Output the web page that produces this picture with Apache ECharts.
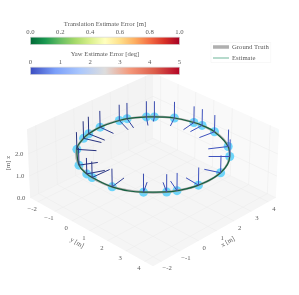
<!DOCTYPE html>
<html><head><meta charset="utf-8">
<style>html,body{margin:0;padding:0;background:#fff}#c{width:299px;height:295px}</style>
<script src="https://cdn.jsdelivr.net/npm/echarts@6/dist/echarts.min.js"></script></head>
<body><div id="c"></div>
<script>
// ---- data (metres) ----
const poseX=[2.91,3.14,3.65,3.93,3.99,3.95,3.45,2.91,1.74,0.47,-0.39,-0.73,-1.35,-1.91,-1.97,-1.93,-1.69,-0.91,-0.12,0.28,0.98,1.92,2.25];
const poseY=[-1.29,-1.06,-0.42,0.41,0.81,1.53,2.73,3.31,3.91,3.95,3.66,3.45,2.85,1.74,0.70,0.36,-0.34,-1.31,-1.78,-1.91,-1.99,-1.85,-1.74];
const headDX=[-0.47,-0.31,-0.6,-0.73,-0.71,-0.77,-0.69,-0.58,-0.25,0.064,0.333,0.407,0.61,0.77,0.887,0.665,0.656,0.471,0.268,0.092,0.019,-0.296,-0.361];
const headDY=[0.563,0.25,0.361,0.12,0.028,-0.101,-0.425,-0.582,-0.619,-0.711,-0.665,-0.591,-0.425,-0.156,0.036,0.296,0.36,0.619,0.748,0.831,0.758,0.813,0.748];
const upDZ=[0.72,0.72,0.74,0.74,0.74,0.76,0.76,0.76,0.76,0.77,0.77,0.77,0.8,0.79,0.7,0.7,0.77,0.77,0.77,0.77,0.74,0.72,0.72];
const poseShade=[0.7,0.8,0.9,0.9,1,1,1,1,1,1,1,0.9,0.8,0.4,0.2,0.2,0.1,0.1,0.1,0.1,0.3,0.4,0.5];
const truthX=[4,3.9,3.6,3.12,2.5,1.78,1,0.22,-0.5,-1.12,-1.6,-1.9,-2,-1.9,-1.6,-1.12,-0.5,0.22,1,1.78,2.5,3.12,3.6,3.9,4];
const truthY=[1,1.78,2.5,3.12,3.6,3.9,4,3.9,3.6,3.12,2.5,1.78,1,0.22,-0.5,-1.12,-1.6,-1.9,-2,-1.9,-1.6,-1.12,-0.5,0.22,1];
const ringZ=2.05;
const ticksXY=[-2,-1,0,1,2,3,4];
const ticksZ=[0,1,2];
const transTicks=[0,0.2,0.4,0.6,0.8,1];
const yawTicks=[0,1,2,3,4,5];
const transColors=['#006837','#1a9850','#66bd63','#a6d96a','#d9ef8b','#ffffbf','#fee08b','#fdae61','#f46d43','#d73027','#a50026'];
const yawColors=['#3b4cc0','#7b9ff9','#aac7fd','#dddddd','#f4987a','#dc5d4a','#b40426'];

// ---- projection of the 3D axes onto the flat scene axes ----
const lo=-2.45,hi=4.45,zTop=3.1;
const D=60,S=25.5,cx=153,cy=164,e=30*Math.PI/180,a=135*Math.PI/180;
const dv=[Math.cos(e)*Math.cos(a),Math.cos(e)*Math.sin(a),Math.sin(e)];
const rv=[Math.SQRT1_2,Math.SQRT1_2,0];
const uv=[-Math.sin(e)*Math.cos(a),-Math.sin(e)*Math.sin(a),Math.cos(e)];
function P(x,y,z){const p=[x-1,y-1,z-zTop/2];
 const dot=v=>p[0]*v[0]+p[1]*v[1]+p[2]*v[2];
 const f=D/(D-dot(dv));
 return [cx+S*f*dot(rv),295-(cy-S*f*dot(uv))];}

const font='"Liberation Serif","DejaVu Serif",serif';
const txt='#5c5c5c';
const fs=6.7;
function poly(name,pts,fill,z){return {type:'custom',name,coordinateSystem:'cartesian2d',xAxisIndex:0,yAxisIndex:0,silent:true,z,clip:false,
 data:[0],renderItem:(p,api)=>({type:'polygon',shape:{points:pts.map(q=>api.coord(q))},style:{fill,stroke:null}})};}
function lines(name,segs,color,w,z){return {type:'custom',name,coordinateSystem:'cartesian2d',xAxisIndex:0,yAxisIndex:0,silent:true,z,clip:false,
 data:segs.map((s,i)=>i),renderItem:(p,api)=>{const i=api.value(0),s=segs[i];return {type:'line',shape:{x1:api.coord(s[0])[0],y1:api.coord(s[0])[1],x2:api.coord(s[1])[0],y2:api.coord(s[1])[1]},style:{stroke:typeof color==='function'?color(i):color,lineWidth:w}};}};}
function labels(name,items,z){return {type:'custom',name,coordinateSystem:'cartesian2d',xAxisIndex:0,yAxisIndex:0,silent:true,z,clip:false,
 data:items.map((s,i)=>i),renderItem:(p,api)=>{const s=items[api.value(0)];const c=api.coord(s.p);return {type:'text',x:c[0],y:c[1],rotation:(s.rot||0)*Math.PI/180,style:{text:s.t,font:fs+'px '+font,fill:txt,align:'center',verticalAlign:'middle'}};}};}

const grid=[];
ticksXY.forEach(t=>{
 grid.push([P(t,lo,0),P(t,hi,0)]);grid.push([P(lo,t,0),P(hi,t,0)]);
 grid.push([P(hi,t,0),P(hi,t,zTop)]);grid.push([P(t,lo,0),P(t,lo,zTop)]);
});
ticksZ.forEach(t=>{grid.push([P(lo,lo,t),P(hi,lo,t)]);grid.push([P(hi,lo,t),P(hi,hi,t)]);});

const tickLab=[];
const lab=t=>(t<0?'\u2212':'')+t;
ticksXY.forEach(t=>{
 const px=P(t,hi,0),py=P(lo,t,0);
 tickLab.push({p:[px[0]+5.5,px[1]-7],t:lab(t)});
 tickLab.push({p:[py[0]-5.5,py[1]-7],t:lab(t)});
});
ticksZ.forEach(t=>tickLab.push({p:[P(lo,lo,t)[0]-9,P(lo,lo,t)[1]],t:t.toFixed(1)}));
tickLab.push({p:[8,295-163],t:'[m] z',rot:90});
tickLab.push({p:[77,295-243],t:'y [m]',rot:-30});
tickLab.push({p:[228,295-242],t:'x [m]',rot:30});

const upSegs=poseX.map((x,i)=>[P(x,poseY[i],ringZ),P(x,poseY[i],ringZ+upDZ[i])]);
const headSegs=poseX.map((x,i)=>[P(x,poseY[i],ringZ),P(x+headDX[i],poseY[i]+headDY[i],ringZ)]);
const estPts=poseX.map((x,i)=>P(x,poseY[i],ringZ));estPts.push(estPts[0]);
const truthPts=truthX.map((x,i)=>P(x,truthY[i],ringZ));
const shadeColor=i=>{const s=poseShade[i];return 'rgb('+Math.round(38+24*s)+','+Math.round(48+34*s)+','+Math.round(120+70*s)+')';};

function bar(name,gi,colors,max){return {type:'custom',name,coordinateSystem:'cartesian2d',xAxisIndex:gi,yAxisIndex:gi,silent:true,data:[0],
 renderItem:(p,api)=>{const a=api.coord([0,0]),b=api.coord([max,1]);return {type:'rect',shape:{x:a[0],y:b[1],width:b[0]-a[0],height:a[1]-b[1]},
  style:{stroke:'#d0d0d0',lineWidth:0.6,fill:new echarts.graphic.LinearGradient(0,0,1,0,colors.map((c,i)=>({offset:i/(colors.length-1),color:c})))}};}};}
function barAxis(gi,name,max,ticks,dec){return {type:'value',gridIndex:gi,position:'top',min:0,max,interval:ticks[1]-ticks[0],name,nameLocation:'middle',nameGap:9,
 nameTextStyle:{fontFamily:font,fontSize:fs,color:txt},axisLine:{show:false},axisTick:{show:false},splitLine:{show:false},
 axisLabel:{margin:1,fontFamily:font,fontSize:fs,color:txt,showMinLabel:true,showMaxLabel:true,formatter:v=>v.toFixed(dec)}};}

const chart=echarts.init(document.getElementById('c'),null,{renderer:'canvas'});
chart.setOption({animation:false,backgroundColor:'#fff',
 grid:[{left:0,top:0,width:299,height:295},{left:30.5,top:37.2,width:149,height:7.3},{left:30.5,top:67.2,width:149,height:7.3}],
 xAxis:[{type:'value',gridIndex:0,min:0,max:299,show:false},barAxis(1,'Translation Estimate Error [m]',1,transTicks,1),barAxis(2,'Yaw Estimate Error [deg]',5,yawTicks,0)],
 yAxis:[{type:'value',gridIndex:0,min:0,max:295,show:false},{type:'value',gridIndex:1,min:0,max:1,show:false},{type:'value',gridIndex:2,min:0,max:1,show:false}],
 legend:{orient:'vertical',left:211,top:42.5,itemWidth:16,itemHeight:5,itemGap:4,padding:[1,2],borderColor:'#f4f4f4',borderWidth:0.6,
  textStyle:{fontFamily:font,fontSize:fs,color:txt,padding:[0,0,0,-2]},
  data:[{name:'Ground Truth',icon:'path://M0,0L0,0ZM0,0.8H16V4.2H0ZM16,5L16,5Z',itemStyle:{color:'#b0b0b0'},lineStyle:{width:0,opacity:0}},
        {name:'Estimate',icon:'path://M0,0L0,0ZM0,2H16V3H0ZM16,5L16,5Z',itemStyle:{color:'#6fb59a'},lineStyle:{width:0,opacity:0}}]},
 series:[
  poly('floor',[P(lo,lo,0),P(hi,lo,0),P(hi,hi,0),P(lo,hi,0)],'#f5f5f5',1),
  poly('wallY',[P(lo,lo,0),P(hi,lo,0),P(hi,lo,zTop),P(lo,lo,zTop)],'#f3f3f3',1),
  poly('wallX',[P(hi,lo,0),P(hi,hi,0),P(hi,hi,zTop),P(hi,lo,zTop)],'#f9f9f9',1),
  lines('grid',grid,'#ebebeb',0.5,2),
  labels('ticks',tickLab,3),
  {type:'scatter',name:'poses',xAxisIndex:0,yAxisIndex:0,data:estPts.slice(0,-1),symbolSize:9,itemStyle:{color:'#5ed2fb',opacity:0.9},z:4,silent:true},
  {type:'line',name:'Ground Truth',xAxisIndex:0,yAxisIndex:0,data:truthPts,smooth:0.4,symbol:'none',lineStyle:{color:'#a9a9a9',width:2.2},itemStyle:{color:'#a9a9a9'},z:5,silent:true},
  {type:'line',name:'Estimate',xAxisIndex:0,yAxisIndex:0,data:estPts,smooth:0.4,symbol:'none',lineStyle:{color:'#14603f',width:1.2},itemStyle:{color:'#6fb59a'},z:6,silent:true},
  lines('up',upSegs,shadeColor,1,7),
  lines('head',headSegs,shadeColor,1,7),
  bar('transBar',1,transColors,1),
  bar('yawBar',2,yawColors,5)
 ]});
</script></body></html>
